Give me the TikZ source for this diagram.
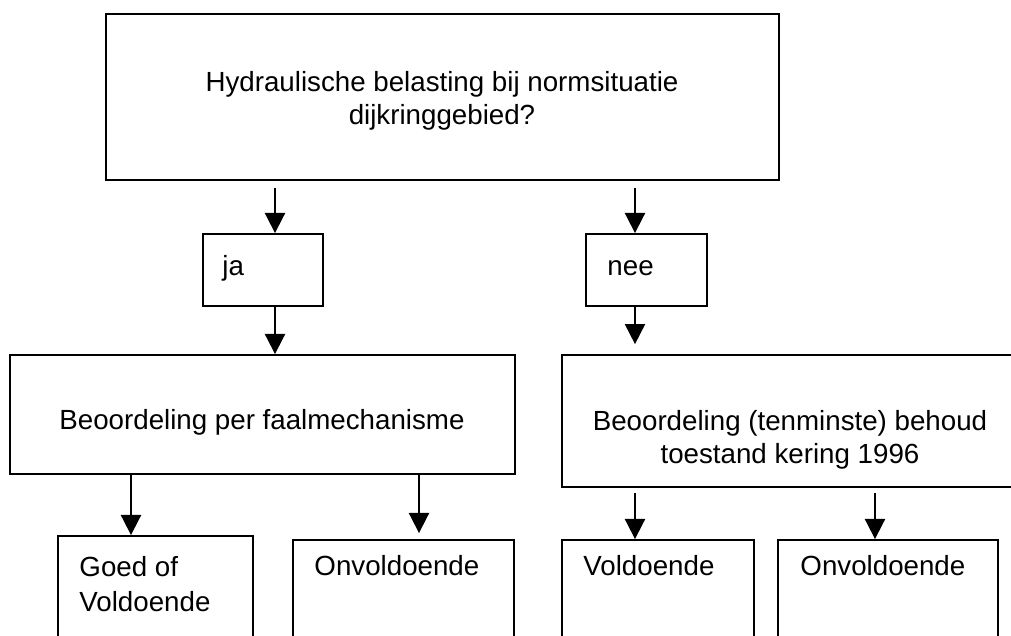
\documentclass[tikz,border=0pt]{standalone}
\usepackage{fontspec}
\setmainfont{Liberation Sans}
\usetikzlibrary{arrows.meta, positioning}
\newcommand{\eenheid}{0.433pt}

\begin{document}
\begin{tikzpicture}[x=\eenheid, y=-\eenheid, font=\fontsize{12}{14.2}\selectfont]
    \tikzstyle{kader} = [rectangle, draw, line width=0.8pt, inner sep=0pt]
    \tikzstyle{tekst} = [inner sep=0pt]
    \tikzstyle{pijl} = [-{Triangle[length=8.7pt, width=8.7pt]}, line width=0.8pt]
    \useasboundingbox (0,0) rectangle (1011,635);
    \clip (0,0) rectangle (1011,635);
    % kaders
    \node (vraag) [kader, minimum width=673*\eenheid, minimum height=166*\eenheid] at (442.5,97) {};
    \node (ja) [kader, minimum width=120*\eenheid, minimum height=72*\eenheid] at (263,270) {};
    \node (nee) [kader, minimum width=121*\eenheid, minimum height=72*\eenheid] at (646.5,270) {};
    \node (oordeelJa) [kader, minimum width=505*\eenheid, minimum height=119*\eenheid] at (262.5,414.5) {};
    \node (oordeelNee) [kader, minimum width=458*\eenheid, minimum height=132*\eenheid] at (791,421) {};
    \node (goed) [kader, minimum width=195*\eenheid, minimum height=144*\eenheid] at (155.5,608) {};
    \node (onvA) [kader, minimum width=221*\eenheid, minimum height=140*\eenheid] at (403.5,610) {};
    \node (vold) [kader, minimum width=192*\eenheid, minimum height=140*\eenheid] at (658,610) {};
    \node (onvB) [kader, minimum width=220*\eenheid, minimum height=140*\eenheid] at (888,610) {};
    % teksten
    \node (vraagTekst) [tekst, align=center] at (442,101) {Hydraulische belasting bij normsituatie\\dijkringgebied?};
    \node (jaTekst) [tekst, anchor=base west] at (222,275) {ja};
    \node (neeTekst) [tekst, anchor=base west] at (607,275) {nee};
    \node (oordeelJaTekst) [tekst, anchor=base] at (262,429) {Beoordeling per faalmechanisme};
    \node (oordeelNeeTekst) [tekst, align=center] at (790,440) {Beoordeling (tenminste) behoud\\toestand kering 1996};
    \node (goedTekst) [tekst, align=left, anchor=north west] at (79,556) {Goed of\\[1pt]Voldoende};
    \node (onvATekst) [tekst, anchor=base west] at (314,575) {Onvoldoende};
    \node (voldTekst) [tekst, anchor=base west] at (583,575) {Voldoende};
    \node (onvBTekst) [tekst, anchor=base west] at (800,575) {Onvoldoende};
    % kolommen van de pijlen
    \coordinate (kolJa) at (275,0);
    \coordinate (kolNee) at (635,0);
    \coordinate (kolGoed) at (131,0);
    \coordinate (kolOnvA) at (419,0);
    \coordinate (kolOnvB) at (875,0);
    \draw [pijl, shorten <=3pt] (vraag.south -| kolJa) -- (ja.north -| kolJa);
    \draw [pijl, shorten <=3pt] (vraag.south -| kolNee) -- (nee.north -| kolNee);
    \draw [pijl] (ja.south -| kolJa) -- (oordeelJa.north -| kolJa);
    \draw [pijl, shorten >=4.3pt] (nee.south -| kolNee) -- (oordeelNee.north -| kolNee);
    \draw [pijl] (oordeelJa.south -| kolGoed) -- (goed.north -| kolGoed);
    \draw [pijl, shorten >=2.6pt] (oordeelJa.south -| kolOnvA) -- (onvA.north -| kolOnvA);
    \draw [pijl, shorten <=2.2pt] (oordeelNee.south -| kolNee) -- (vold.north -| kolNee);
    \draw [pijl, shorten <=2.2pt] (oordeelNee.south -| kolOnvB) -- (onvB.north -| kolOnvB);
\end{tikzpicture}
\end{document}
